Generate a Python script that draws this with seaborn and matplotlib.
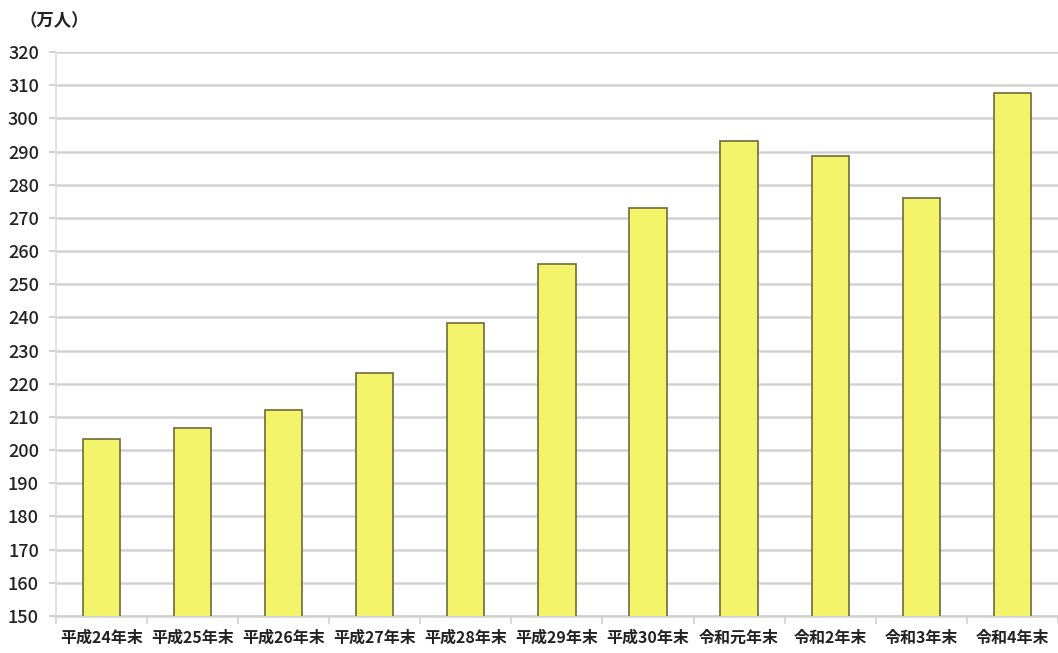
import matplotlib
matplotlib.use("Agg")
import matplotlib.pyplot as plt
import seaborn as sns
import pandas as pd

categories = ["平成24年末", "平成25年末", "平成26年末", "平成27年末", "平成28年末",
              "平成29年末", "平成30年末", "令和元年末", "令和2年末", "令和3年末", "令和4年末"]
values = [203.4, 206.6, 212.2, 223.2, 238.3, 256.2, 273.1, 293.3, 288.7, 276.1, 307.5]
yticks = list(range(150, 321, 10))
unit_label = "（万人）"

sns.set_theme(style="white")
plt.rcParams['font.family'] = ['Noto Sans CJK JP', 'DejaVu Sans']

df = pd.DataFrame({"cat": categories, "val": values})

fig = plt.figure(figsize=(10.58, 6.53), dpi=100)
ax = fig.add_axes([0.0526, 0.0567, 0.9474, 0.8637])

sns.barplot(data=df, x="cat", y="val", color="#f4f46a", edgecolor="#6e6a3c",
            linewidth=1.2, width=0.41, saturation=1, ax=ax, zorder=3)

ax.set_ylim(150, 320)
ax.set_xlim(-0.5, 10.44)
ax.set_yticks(yticks)
ax.set_yticklabels([str(t) for t in yticks], fontsize=13, color="#222222", fontweight="medium")
ax.set_xticks(range(len(categories)))
ax.set_xticklabels(categories, fontsize=11.5, fontweight="bold", color="#222222")
ax.set_xlabel("")
ax.set_ylabel("")

ax.yaxis.grid(True, color="#d2d2d2", linewidth=1.8, zorder=0)
ax.set_axisbelow(True)
for s in ["top", "right"]:
    ax.spines[s].set_visible(False)
ax.spines["left"].set_color("#dddddd")
ax.spines["left"].set_linewidth(1.2)
ax.spines["bottom"].set_color("#d2d2d2")
ax.spines["bottom"].set_linewidth(1.8)

ax.tick_params(axis="y", length=5, width=1.5, color="#d2d2d2", pad=7, left=True)
ax.set_xticks([i + 0.5 for i in range(-1, len(categories))], minor=True)
ax.tick_params(axis="x", which="major", length=0, pad=10)
ax.tick_params(axis="x", which="minor", length=6, width=1.2, color="#d2d2d2", bottom=True)

fig.text(0.018, 0.968, unit_label, fontsize=12.5, fontweight="bold", color="#222222",
         ha="left", va="center")

fig.savefig("out.png", dpi=100, facecolor="white")
